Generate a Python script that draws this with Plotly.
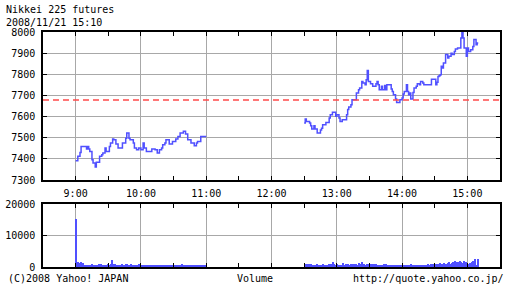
import plotly.graph_objects as go
import pandas as pd

DAY = "2008-11-21 "

# Morning session price (time, price)
am_time = ["09:00", "09:02", "09:04", "09:05", "09:10", "09:11", "09:12", "09:13", "09:15", "09:16",
           "09:18", "09:19", "09:22", "09:24", "09:25", "09:27", "09:28", "09:31", "09:32", "09:34",
           "09:35", "09:37", "09:39", "09:43", "09:46", "09:47", "09:49", "09:50", "09:53", "09:54",
           "09:56", "09:58", "10:00", "10:02", "10:03", "10:05", "10:10", "10:13", "10:15", "10:17",
           "10:19", "10:20", "10:22", "10:23", "10:26", "10:29", "10:32", "10:34", "10:36", "10:39",
           "10:41", "10:43", "10:46", "10:49", "10:51", "10:52", "10:55", "11:00"]
am_price = [7391, 7412, 7430, 7459, 7447, 7459, 7447, 7435, 7396, 7380,
            7361, 7384, 7412, 7420, 7428, 7451, 7435, 7459, 7475, 7494,
            7490, 7470, 7451, 7475, 7498, 7522, 7498, 7490, 7475, 7451,
            7443, 7451, 7443, 7475, 7451, 7435, 7447, 7443, 7428, 7443,
            7451, 7467, 7475, 7490, 7470, 7482, 7494, 7506, 7522, 7530,
            7518, 7490, 7475, 7462, 7475, 7482, 7506, 7506]

# Afternoon session price
pm_time = ["12:30", "12:31", "12:32", "12:35", "12:36", "12:37", "12:39", "12:40", "12:42", "12:45",
           "12:46", "12:47", "12:50", "12:53", "12:54", "12:56", "12:59", "13:00", "13:02", "13:03",
           "13:05", "13:09", "13:10", "13:11", "13:13", "13:14", "13:18", "13:20", "13:21", "13:23",
           "13:24", "13:26", "13:27", "13:28", "13:29", "13:31", "13:33", "13:36", "13:37", "13:38",
           "13:39", "13:41", "13:42", "13:44", "13:45", "13:46", "13:50", "13:51", "13:52", "13:54",
           "13:55", "13:58", "14:00", "14:01", "14:02", "14:04", "14:05", "14:06", "14:07", "14:08",
           "14:10", "14:11", "14:13", "14:14", "14:16", "14:17", "14:19", "14:20", "14:27", "14:31",
           "14:32", "14:33", "14:34", "14:35", "14:36", "14:37", "14:38", "14:40", "14:42", "14:43",
           "14:45", "14:46", "14:48", "14:49", "14:51", "14:54", "14:55", "14:56", "14:57", "14:59",
           "15:00", "15:01", "15:03", "15:05", "15:06", "15:08", "15:09", "15:10"]
pm_price = [7570, 7588, 7577, 7570, 7557, 7541, 7557, 7541, 7522, 7537,
            7545, 7561, 7572, 7593, 7609, 7620, 7601, 7609, 7593, 7577,
            7585, 7609, 7633, 7645, 7656, 7680, 7711, 7727, 7735, 7766,
            7759, 7751, 7774, 7818, 7766, 7755, 7743, 7755, 7766, 7751,
            7727, 7743, 7727, 7747, 7727, 7751, 7730, 7719, 7703, 7683,
            7667, 7680, 7688, 7707, 7719, 7751, 7719, 7703, 7711, 7683,
            7714, 7735, 7743, 7755, 7751, 7766, 7759, 7751, 7776, 7751,
            7762, 7790, 7793, 7798, 7838, 7830, 7853, 7893, 7877, 7885,
            7900, 7893, 7908, 7920, 7924, 7972, 7998, 7972, 7924, 7885,
            7924, 7908, 7916, 7932, 7964, 7940, 7948, 7948]

prev_close = 7678

# Volume per minute
am_vol_start = "09:00"
am_volume = [15200, 1100, 1500, 1200, 1600, 900, 1400, 700, 600, 700,
             600, 700, 600, 500, 700, 800, 600, 700, 600, 500,
             700, 800, 600, 900, 700, 600, 500, 700, 600, 800,
             600, 700, 900, 2300, 800, 700, 1100, 600, 700, 500,
             700, 600, 800, 500, 700, 600, 900, 1100, 700, 600,
             800, 600, 500, 700, 600, 500, 700, 600, 800, 700,
             500, 600, 700, 500, 400, 600, 500, 700, 400, 500,
             600, 400, 500, 700, 500, 400, 600, 500, 400, 500,
             700, 500, 400, 600, 500, 700, 400, 500, 600, 400,
             500, 600, 400, 700, 500, 400, 600, 800, 400, 500,
             400, 600, 500, 400, 700, 400, 500, 600, 400, 500,
             400, 600, 300, 500, 400, 500, 300, 600, 400, 500]
pm_vol_start = "12:30"
pm_volume = [1000, 900, 1100, 700, 800, 600, 900, 500, 700, 600,
             500, 800, 600, 400, 700, 500, 600, 900, 500, 700,
             600, 500, 800, 700, 1000, 600, 1700, 900, 600, 700,
             800, 600, 500, 700, 600, 1400, 500, 700, 800, 600,
             900, 700, 600, 800, 1000, 700, 900, 800, 600, 700,
             1200, 900, 800, 1500, 1100, 900, 700, 1000, 800, 700,
             900, 700, 800, 600, 1000, 700, 800, 500, 700, 600,
             700, 500, 600, 800, 500, 900, 700, 600, 500, 700,
             600, 500, 700, 400, 600, 500, 400, 600, 500, 700,
             400, 500, 600, 400, 500, 700, 400, 500, 800, 400,
             500, 400, 600, 500, 400, 700, 500, 400, 600, 500,
             700, 500, 600, 800, 500, 700, 1000, 600, 900, 700,
             800, 1100, 700, 900, 1200, 800, 1000, 700, 1200, 900,
             1000, 800, 1200, 1600, 1100, 1400, 1700, 1300, 1800, 1500,
             1300, 1700, 1200, 1900, 1500, 1400, 1800, 1200, 1600, 1300,
             1100, 800, 1300, 900, 1500, 2000, 1000, 2400, 700, 2400]


def ts(t):
    return pd.Timestamp(DAY + t)


def minutes(start, n):
    return list(pd.date_range(DAY + start, periods=n, freq="min"))


FONT = "DejaVu Sans Mono"
LINE_C = "#5050ff"
GRID_C = "#a8a8a8"

fig = go.Figure()
fig.add_trace(go.Scatter(x=[ts(t) for t in am_time], y=am_price, mode="lines",
                         line=dict(color=LINE_C, width=1.5, shape="hv"), xaxis="x", yaxis="y"))
fig.add_trace(go.Scatter(x=[ts(t) for t in pm_time], y=pm_price, mode="lines",
                         line=dict(color=LINE_C, width=1.5, shape="hv"), xaxis="x", yaxis="y"))
vx = minutes(am_vol_start, len(am_volume)) + minutes(pm_vol_start, len(pm_volume))
vy = am_volume + pm_volume
fig.add_trace(go.Bar(x=vx, y=vy, width=60000, offset=0, marker=dict(color=LINE_C, line=dict(width=0)),
                     xaxis="x2", yaxis="y2"))

xr = [DAY + "08:30", DAY + "15:30"]
dom = [43 / 512, 500 / 512]
common_x = dict(type="date", range=xr, domain=dom, dtick=3600000, tick0=DAY + "09:00",
                showgrid=True, gridcolor=GRID_C, gridwidth=1, showline=True, linecolor="black",
                linewidth=1.5, mirror="ticks", ticks="inside", ticklen=4, tickcolor="black",
                minor=dict(dtick=1800000, tick0=DAY + "09:00", ticks="inside", ticklen=4,
                           tickcolor="black", showgrid=False),
                zeroline=False, fixedrange=True, automargin=False)
common_y = dict(showgrid=True, gridcolor=GRID_C, gridwidth=1, showline=True, linecolor="black",
                linewidth=1.5, mirror="ticks", ticks="inside", ticklen=4, tickcolor="black",
                zeroline=False, tickfont=dict(family=FONT, size=10, color="black"),
                ticklabelstandoff=4, tickformat="d", automargin=False, fixedrange=True)

fig.update_layout(
    width=512, height=288, margin=dict(l=0, r=0, t=0, b=0, autoexpand=False),
    paper_bgcolor="white", plot_bgcolor="white", showlegend=False, bargap=0,
    font=dict(family=FONT, size=10, color="black"),
    xaxis=dict(common_x, anchor="y", tickformat="%-H:%M",
               tickfont=dict(family=FONT, size=10, color="black"), ticklabelstandoff=3),
    yaxis=dict(common_y, domain=[1 - 180 / 288, 1 - 32 / 288], range=[7300, 8000], dtick=100, anchor="x"),
    xaxis2=dict(common_x, anchor="y2", showticklabels=False),
    yaxis2=dict(common_y, domain=[1 - 267 / 288, 1 - 204 / 288], range=[0, 20000], dtick=10000, anchor="x2"),
    shapes=[dict(type="line", xref="x domain", x0=0, x1=1, yref="y", y0=prev_close, y1=prev_close,
                 line=dict(color="#ff4a4a", width=1.5, dash="6px,4px"))],
    annotations=[
        dict(text="Nikkei 225 futures<br>2008/11/21 15:10", xref="paper", yref="paper",
             x=4 / 512, y=1 - 16 / 288, xanchor="left", yanchor="middle", align="left",
             showarrow=False, font=dict(family=FONT, size=10)),
        dict(text="(C)2008 Yahoo! JAPAN", xref="paper", yref="paper", x=6 / 512, y=1 - 278 / 288,
             xanchor="left", yanchor="middle", showarrow=False, font=dict(family=FONT, size=10)),
        dict(text="Volume", xref="paper", yref="paper", x=255 / 512, y=1 - 278 / 288,
             xanchor="center", yanchor="middle", showarrow=False, font=dict(family=FONT, size=10)),
        dict(text="http://quote.yahoo.co.jp/", xref="paper", yref="paper", x=506 / 512, y=1 - 278 / 288,
             xanchor="right", yanchor="middle", showarrow=False, font=dict(family=FONT, size=10)),
    ],
)

fig.write_html("out.html")
